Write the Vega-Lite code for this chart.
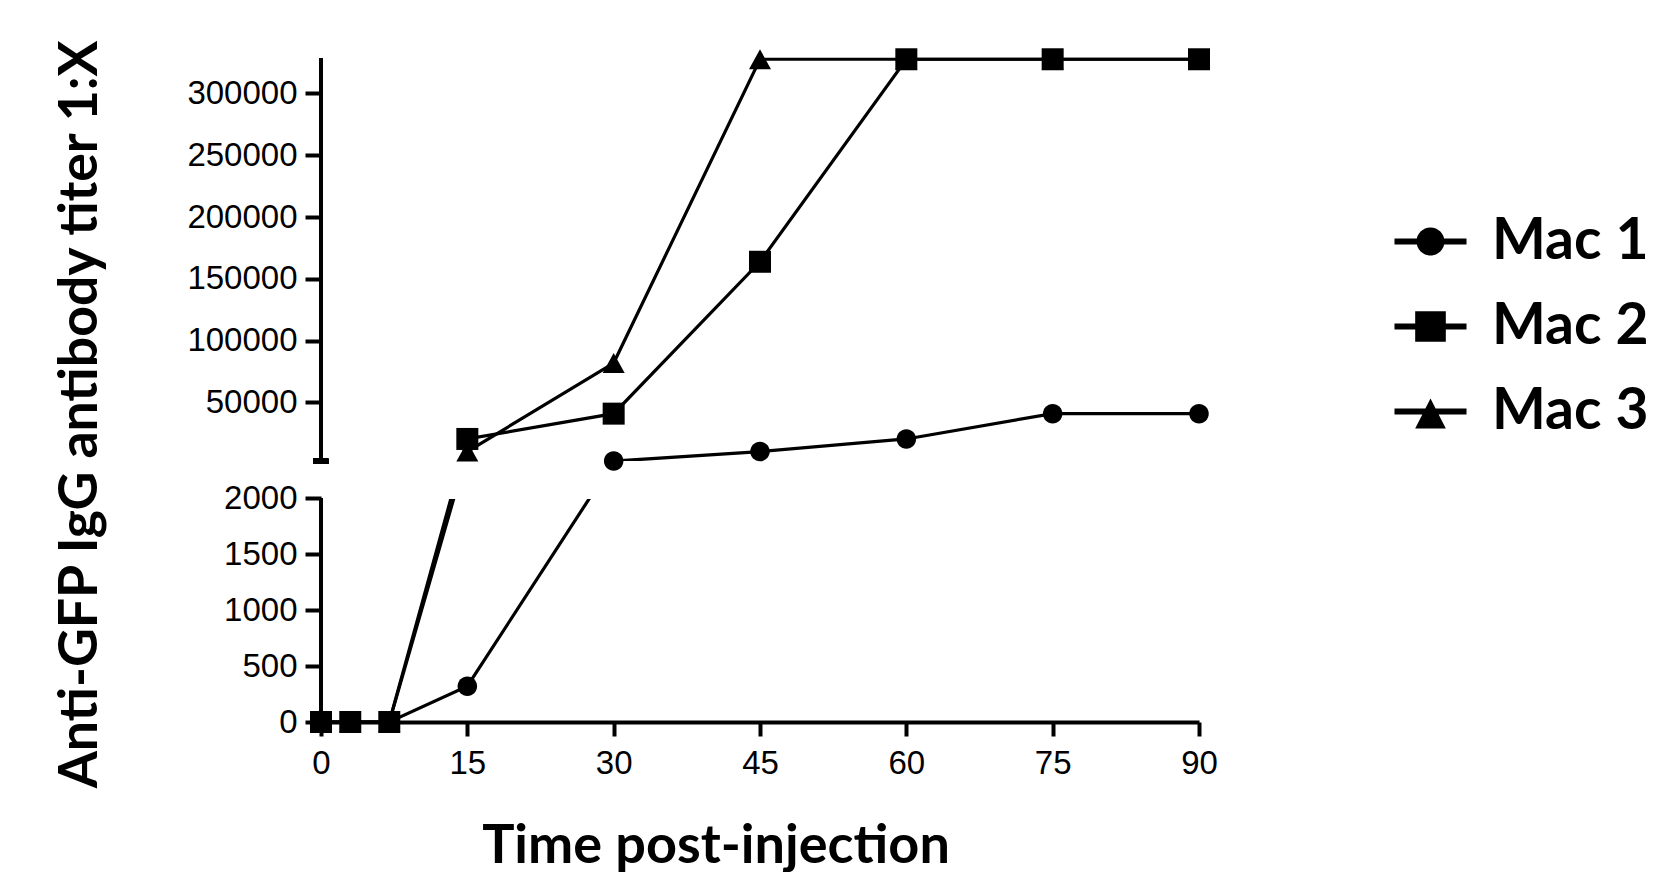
{
  "$schema": "https://vega.github.io/schema/vega-lite/v6.json",
  "width": 878,
  "height": 672,
  "autosize": {"type": "none"},
  "padding": {"left": 321, "top": 50, "right": 461, "bottom": 150},
  "background": "white",
  "config": {"view": {"stroke": null}, "font": "Liberation Sans"},
  "resolve": {"scale": {"shape": "independent"}, "legend": {"shape": "independent"}},
  "data": {
    "values": [
      {"series": "Mac 1", "t": 0, "titer": 0},
      {"series": "Mac 1", "t": 3, "titer": 0},
      {"series": "Mac 1", "t": 7, "titer": 0},
      {"series": "Mac 1", "t": 15, "titer": 320},
      {"series": "Mac 1", "t": 30, "titer": 2560},
      {"series": "Mac 1", "t": 45, "titer": 10240},
      {"series": "Mac 1", "t": 60, "titer": 20480},
      {"series": "Mac 1", "t": 75, "titer": 40960},
      {"series": "Mac 1", "t": 90, "titer": 40960},
      {"series": "Mac 3", "t": 0, "titer": 0},
      {"series": "Mac 3", "t": 3, "titer": 0},
      {"series": "Mac 3", "t": 7, "titer": 0},
      {"series": "Mac 3", "t": 15, "titer": 10240},
      {"series": "Mac 3", "t": 30, "titer": 81920},
      {"series": "Mac 3", "t": 45, "titer": 327680},
      {"series": "Mac 3", "t": 60, "titer": 327680},
      {"series": "Mac 3", "t": 75, "titer": 327680},
      {"series": "Mac 3", "t": 90, "titer": 327680},
      {"series": "Mac 2", "t": 0, "titer": 0},
      {"series": "Mac 2", "t": 3, "titer": 0},
      {"series": "Mac 2", "t": 7, "titer": 0},
      {"series": "Mac 2", "t": 15, "titer": 20480},
      {"series": "Mac 2", "t": 30, "titer": 40960},
      {"series": "Mac 2", "t": 45, "titer": 163840},
      {"series": "Mac 2", "t": 60, "titer": 327680},
      {"series": "Mac 2", "t": 75, "titer": 327680},
      {"series": "Mac 2", "t": 90, "titer": 327680}
    ]
  },
  "layer": [
    {
      "mark": {"type": "point", "filled": true, "opacity": 0, "color": "black", "size": 484},
      "encoding": {
        "x": {"field": "t", "type": "quantitative"},
        "y": {"field": "titer", "type": "quantitative"},
        "shape": {
          "field": "series", "type": "nominal",
          "scale": {
            "domain": ["Mac 1", "Mac 2", "Mac 3"],
            "range": [
              "M-1.286,-0.107H1.286V0.107H-1.286ZM0.5,0A0.5,0.5,0,1,1,-0.5,0A0.5,0.5,0,1,1,0.5,0Z",
              "M-1.286,-0.107H1.286V0.107H-1.286ZM-0.547,-0.547H0.547V0.547H-0.547Z",
              "M-1.286,-0.107H1.286V0.107H-1.286ZM0,-0.464L0.547,0.607H-0.547Z"
            ]
          },
          "legend": {
            "title": null, "orient": "none", "legendX": 1081, "legendY": 163, "direction": "vertical",
            "padding": 0, "rowPadding": 27,
            "symbolSize": 3136, "symbolFillColor": "black", "symbolStrokeColor": "black", "symbolStrokeWidth": 0, "symbolOpacity": 1,
            "labelFont": "Lato", "labelFontSize": 57, "labelFontWeight": "bold", "labelColor": "black",
            "labelOffset": 33, "labelLimit": 400
          }
        }
      }
    },
    {
      "mark": {"type": "line", "color": "black", "strokeWidth": 3.2},
      "encoding": {
        "x": {
          "field": "t", "type": "quantitative",
          "scale": {"domain": [0, 90], "nice": false, "zero": false},
          "axis": {
            "values": [0, 15, 30, 45, 60, 75, 90],
            "title": "Time post-injection",
            "titleFont": "Lato", "titleFontSize": 54, "titleFontWeight": "bold", "titleColor": "black",
            "titleX": 394.5, "titleY": 140, "titleAlign": "center", "titleBaseline": "alphabetic",
            "labelFont": "Liberation Sans", "labelFontSize": 33, "labelColor": "black",
            "labelPadding": 11, "labelFlush": false, "labelOverlap": false,
            "tickSize": 14, "tickWidth": 4, "tickColor": "black",
            "domainWidth": 4, "domainColor": "black", "grid": false
          }
        },
        "y": {
          "field": "titer", "type": "quantitative",
          "scale": {"domain": [0, 2000, 2560, 330000], "range": [672, 448.3, 411.1, 6.4], "nice": false, "zero": false},
          "axis": {
            "values": [0, 500, 1000, 1500, 2000, 50000, 100000, 150000, 200000, 250000, 300000],
            "format": "d",
            "title": "Anti-GFP IgG antibody titer 1:X",
            "titleFont": "Lato", "titleFontSize": 53.5, "titleFontWeight": "bold", "titleColor": "black",
            "titleX": -225, "titleY": 364, "titleAngle": -90, "titleAlign": "center", "titleBaseline": "alphabetic",
            "labelFont": "Liberation Sans", "labelFontSize": 33, "labelColor": "black",
            "labelPadding": 8, "labelFlush": false, "labelOverlap": false,
            "tickSize": 16, "tickWidth": 4, "tickColor": "black",
            "domain": false, "grid": false
          }
        },
        "detail": {"field": "series", "type": "nominal"}
      }
    },
    {
      "mark": {"type": "rect", "color": "white"},
      "encoding": {
        "x": {"datum": 0.4, "type": "quantitative"},
        "x2": {"datum": 90},
        "y": {"datum": 2000, "type": "quantitative"},
        "y2": {"datum": 2560}
      }
    },
    {
      "mark": {"type": "point", "filled": true, "opacity": 1, "color": "black", "size": 484},
      "encoding": {
        "x": {"field": "t", "type": "quantitative"},
        "y": {"field": "titer", "type": "quantitative"},
        "shape": {
          "field": "series", "type": "nominal",
          "scale": {
            "domain": ["Mac 1", "Mac 2", "Mac 3"],
            "range": [
              "M0.886,0A0.886,0.886,0,1,1,-0.886,0A0.886,0.886,0,1,1,0.886,0Z",
              "M-1,-1H1V1H-1Z",
              "M0,-0.9L1,0.9H-1Z"
            ]
          },
          "legend": null
        }
      }
    },
    {
      "mark": {"type": "rule", "color": "black", "strokeWidth": 4},
      "encoding": {
        "x": {"datum": 0, "type": "quantitative"},
        "y": {"datum": 0, "type": "quantitative"},
        "y2": {"datum": 2000}
      }
    },
    {
      "mark": {"type": "rule", "color": "black", "strokeWidth": 4},
      "encoding": {
        "x": {"datum": 0, "type": "quantitative"},
        "y": {"datum": 2560, "type": "quantitative"},
        "y2": {"datum": 328500}
      }
    },
    {
      "mark": {"type": "rule", "color": "black", "strokeWidth": 4.5},
      "encoding": {
        "x": {"datum": -0.82, "type": "quantitative"},
        "x2": {"datum": 0.75},
        "y": {"datum": 2560, "type": "quantitative"}
      }
    }
  ]
}
